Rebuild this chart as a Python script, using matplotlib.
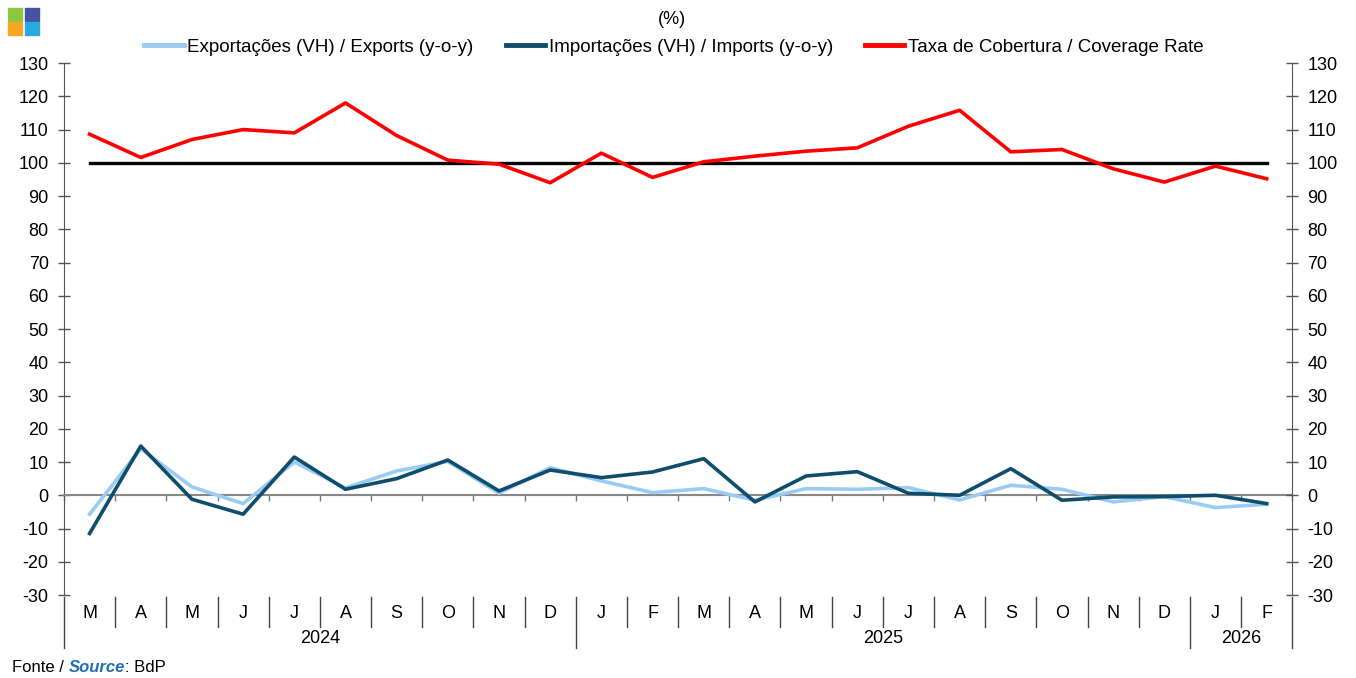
import matplotlib
matplotlib.use("Agg")
import matplotlib.pyplot as plt
import matplotlib.transforms as mtransforms
from matplotlib.patches import Rectangle
from matplotlib.lines import Line2D
import numpy as np

plt.rcParams['font.family'] = ['Liberation Sans', 'DejaVu Sans']

months = ["M", "A", "M", "J", "J", "A", "S", "O", "N", "D",
          "J", "F", "M", "A", "M", "J", "J", "A", "S", "O", "N", "D",
          "J", "F"]
years = ["2024", "2025", "2026"]
year_counts = [10, 12, 2]

exports = [-5.7, 14.0, 2.5, -2.5, 10.0, 2.2, 7.3, 10.2, 0.6, 8.3,
           4.3, 0.8, 2.0, -1.5, 2.0, 1.8, 2.3, -1.4, 3.0, 1.8, -2.0, -0.4,
           -3.7, -2.7]
imports = [-11.5, 14.8, -1.2, -5.7, 11.5, 1.8, 5.0, 10.6, 1.3, 7.6,
           5.3, 7.0, 11.0, -2.0, 5.8, 7.1, 0.6, 0.0, 8.0, -1.5, -0.5, -0.4,
           0.0, -2.5]
coverage = [108.6, 101.6, 107.0, 110.0, 109.0, 118.0, 108.2, 100.8, 99.6, 94.0,
            102.9, 95.6, 100.3, 102.0, 103.5, 104.5, 111.0, 115.8, 103.3, 104.0, 98.2, 94.2,
            99.0, 95.2]
reference = [100] * len(months)

label_exp = "Exportações (VH) / Exports (y-o-y)"
label_imp = "Importações (VH) / Imports (y-o-y)"
label_cov = "Taxa de Cobertura / Coverage Rate"

c_exp = "#9ACBF5"
c_imp = "#0E4D6B"
c_cov = "#FF0000"
fs = 13

fig = plt.figure(figsize=(13.56, 6.78), dpi=100)
ax = fig.add_axes([0.0472, 0.1224, 0.9058, 0.7846])
x = np.arange(len(months))

ax.plot(x, reference, color="black", lw=2.4, zorder=3)
ax.plot(x, coverage, color=c_cov, lw=2.6, zorder=4, label=label_cov)
ax.plot(x, exports, color=c_exp, lw=2.6, zorder=4, label=label_exp)
ax.plot(x, imports, color=c_imp, lw=2.6, zorder=5, label=label_imp)

ax.set_xlim(-0.5, len(months) - 0.5)
ax.set_ylim(-30, 130)
yt = np.arange(-30, 131, 10)
ax.set_yticks(yt)
ax.set_yticklabels([str(v) for v in yt], fontsize=fs)
ax.tick_params(axis='y', direction='inout', length=8, width=1, color="#555555", pad=7)

for s in ['top', 'right']:
    ax.spines[s].set_visible(False)
ax.spines['left'].set_color("#555555")
ax.spines['bottom'].set_position(('data', 0))
ax.spines['bottom'].set_color("#888888")
ax.spines['bottom'].set_linewidth(1.5)
ax.set_xticks(np.arange(len(months) + 1) - 0.5)
ax.set_xticklabels([])
ax.tick_params(axis='x', direction='out', length=4, width=1, color="#777777")

ax2 = ax.twinx()
ax2.set_ylim(ax.get_ylim())
ax2.set_yticks(yt)
ax2.set_yticklabels([str(v) for v in yt], fontsize=fs)
ax2.tick_params(axis='y', direction='inout', length=8, width=1, color="#555555", pad=7)
for s in ['top', 'left', 'bottom']:
    ax2.spines[s].set_visible(False)
ax2.spines['right'].set_color("#555555")

# category axis below
trans = mtransforms.blended_transform_factory(ax.transData, ax.transAxes)
for i, m in enumerate(months):
    ax.text(i, -0.034, m, transform=trans, ha='center', va='center', fontsize=fs)
year_bounds = np.cumsum([0] + year_counts)
for k, yname in enumerate(years):
    xc = (year_bounds[k] + year_bounds[k + 1] - 1) / 2
    ax.text(xc, -0.081, yname, transform=trans, ha='center', va='center', fontsize=fs)
for b in range(len(months) + 1):
    long_ = b in year_bounds
    y1 = -0.1 if long_ else -0.06
    ax.add_line(Line2D([b - 0.5, b - 0.5], [-0.004, y1], transform=trans,
                       color="#444444", lw=1, clip_on=False))

# legend
h = [Line2D([], [], color=c_exp, lw=3.5), Line2D([], [], color=c_imp, lw=3.5),
     Line2D([], [], color=c_cov, lw=3.5)]
fig.legend(h, [label_exp, label_imp, label_cov], loc='center', bbox_to_anchor=(0.497, 1 - 47 / 678),
           ncol=3, frameon=False, fontsize=13.5, handlelength=2.1, handletextpad=0.2,
           columnspacing=1.7, borderpad=0)

fig.text(672 / 1356, 1 - 20 / 678, "(%)", ha='center', va='center', fontsize=fs)

# logo
W, H = 1356, 678
sq = [(8, 8, "#8DC63F"), (25, 8, "#4652A3"), (8, 22, "#F7A823"), (25, 22, "#27AAE1")]
for (px, py, col) in sq:
    fig.patches.append(Rectangle((px / W, 1 - (py + 13) / H), 14 / W, 13 / H,
                                 transform=fig.transFigure, color=col, zorder=10))

# footer
fig.canvas.draw()
r = fig.canvas.get_renderer()
t1 = fig.text(12 / W, 1 - 668 / H, "Fonte / ", fontsize=12, va='center', ha='left')
bb = t1.get_window_extent(r)
t2 = fig.text(bb.x1 / W, 1 - 668 / H, "Source", fontsize=12, va='center', ha='left',
              fontweight='bold', fontstyle='italic', color="#1F6FB5")
bb2 = t2.get_window_extent(r)
fig.text(bb2.x1 / W, 1 - 668 / H, ": BdP", fontsize=12, va='center', ha='left')

fig.savefig("out.png", dpi=100)
